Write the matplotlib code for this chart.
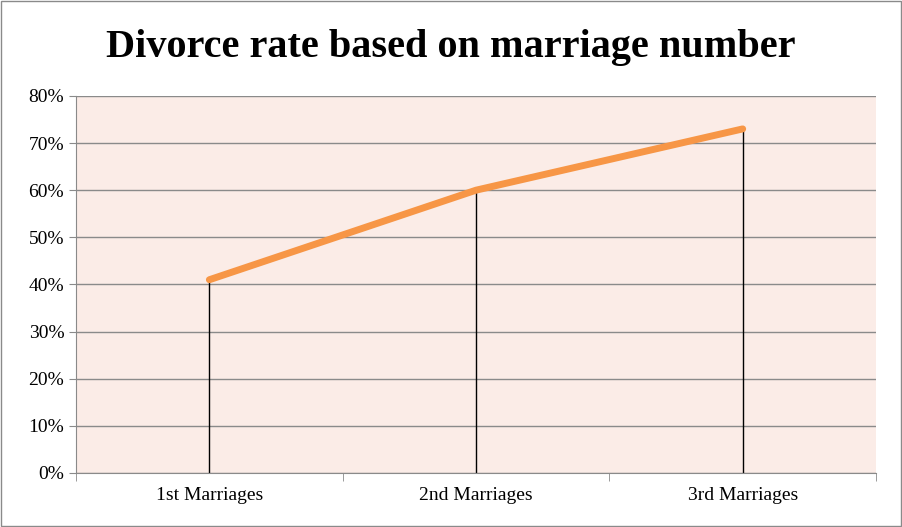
import numpy as np
import matplotlib.pyplot as plt
from matplotlib.ticker import PercentFormatter

categories = ['1st Marriages', '2nd Marriages', '3rd Marriages']
rates = [41, 60, 73]

plt.rcParams['font.family'] = ['Liberation Serif', 'DejaVu Serif']

fig = plt.figure(figsize=(9.02, 5.27), dpi=100)
ax = fig.add_axes([0.0843, 0.1025, 0.8869, 0.7155])
ax.set_facecolor('#fbece7')

x = np.arange(len(categories))
ax.set_xlim(-0.5, len(categories) - 0.5)
ax.set_ylim(0, 80)
ax.set_yticks(range(0, 81, 10))
ax.yaxis.set_major_formatter(PercentFormatter(decimals=0))
ax.grid(axis='y', color='#8a8a8a', linewidth=1)
ax.set_axisbelow(True)

ax.vlines(x, 0, rates, color='black', linewidth=1, zorder=2)
ax.plot(x, rates, color='#f79646', linewidth=5, solid_capstyle='round', zorder=3)

ax.set_xticks(x)
ax.set_xticklabels(categories, fontsize=14)
ax.set_xticks(np.arange(-0.5, len(categories)), minor=True)
ax.tick_params(axis='x', which='major', length=0, pad=10)
ax.tick_params(axis='x', which='minor', length=6, color='#8a8a8a')
ax.tick_params(axis='y', labelsize=14, length=5, color='#8a8a8a')
for s in ['top', 'right']:
    ax.spines[s].set_visible(False)
for s in ['left', 'bottom']:
    ax.spines[s].set_color('#8a8a8a')

fig.text(0.5, 0.91, 'Divorce rate based on marriage number', ha='center', va='center',
         fontsize=29, fontweight='bold')
fig.patches.append(plt.Rectangle((0.001, 0.001), 0.998, 0.998, transform=fig.transFigure,
                                 fill=False, edgecolor='#8a8a8a', linewidth=1))

fig.savefig('out.png', dpi=100)
